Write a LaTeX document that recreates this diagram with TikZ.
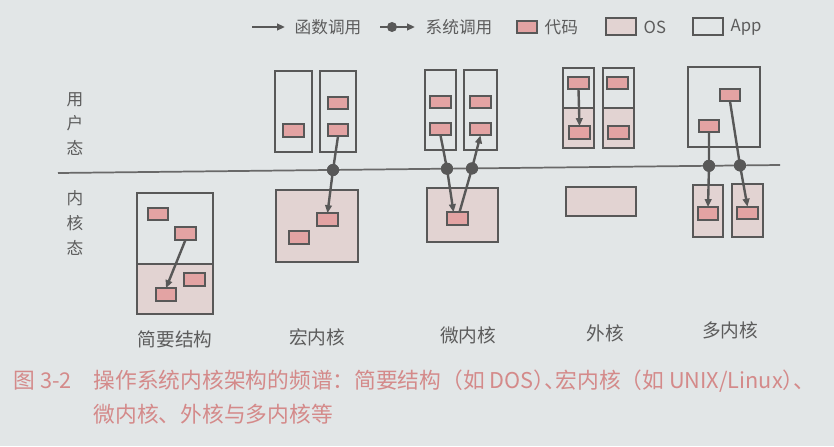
\documentclass[tikz,border=0pt]{standalone}
\usepackage{fontspec}
\setmainfont{Noto Sans CJK SC}
\usetikzlibrary{fit,arrows.meta}
\definecolor{bgc}{HTML}{E2E6E7}
\definecolor{strk}{HTML}{585858}
\definecolor{codef}{HTML}{E3A3A3}
\definecolor{osf}{HTML}{E2D3D2}
\definecolor{txt}{HTML}{5C5C5C}
\definecolor{capc}{HTML}{D48A8A}
\tikzset{
  box/.style={draw=strk, line width=2.1pt, inner sep=0pt, outer sep=0pt},
  appbox/.style={box},
  osbox/.style={box, fill=osf},
  code/.style={draw=strk, fill=codef, line width=1.3pt, minimum width=15.5pt, minimum height=9.5pt, inner sep=0pt, outer sep=0pt},
  conn/.style={draw=strk, line width=1.8pt, -{Triangle[length=6pt,width=5pt]}},
  calldot/.style={circle, fill=strk, minimum size=9pt, inner sep=0pt},
  lbl/.style={text=txt, font=\fontsize{14pt}{16pt}\selectfont},
  lgd/.style={text=txt, font=\fontsize{12.5pt}{14pt}\selectfont, anchor=west},
  captext/.style={text=capc, font=\fontsize{16.3pt}{18pt}\selectfont, anchor=west},
}
\newcommand{\rpardun}{\makebox[0.5em][l]{）}\makebox[0.5em][l]{、}}
\begin{document}
\begin{tikzpicture}[x=0.75pt, y=-0.75pt]
\fill[bgc] (0,0) rectangle (834,446);
\useasboundingbox (0,0) rectangle (834,446);

% legend
\coordinate (lgA1) at (252,27);
\coordinate (lgA2) at (285,27);
\draw[conn] (lgA1) -- (lgA2);
\node[lgd] (lgT1) at (290,27) {函数调用};
\coordinate (lgB1) at (380,27);
\coordinate (lgB2) at (415,27);
\draw[conn] (lgB1) -- (lgB2);
\node[calldot, minimum size=7.5pt] (lgBd) at (392,27) {};
\node[lgd] (lgT2) at (421,27) {系统调用};
\node[code] (lgC) at (527,27) {};
\node[lgd] (lgT3) at (540,27) {代码};
\node[osbox, fit={(606,18) (636,35)}] (lgO) {};
\node[lgd] (lgT4) at (639,27) {OS};
\node[appbox, fit={(693,18) (723,35)}] (lgP) {};
\node[lgd] (lgT5) at (726,27) {App};

% mode labels
\node[lbl, align=center, font=\fontsize{12.5pt}{18.5pt}\selectfont] (usr) at (75,124) {用\\户\\态};
\node[lbl, align=center, font=\fontsize{12.5pt}{18.5pt}\selectfont] (krn) at (75,223) {内\\核\\态};

% divider line
\coordinate (lineL) at (58,173);
\coordinate (lineR) at (780,165);
\draw[strk!90, line width=1.3pt] (lineL) -- (lineR);

% ---- simple structure
\node[appbox, fit={(137,193) (213,264)}] (sU) {};
\node[osbox, fit={(137,264) (213,314)}] (sL) {};
\node[code] (s1) at (158,214) {};
\node[code] (s2) at (185.5,233.5) {};
\node[code] (s3) at (194.5,279.5) {};
\node[code] (s4) at (166,294.5) {};
\draw[conn] (s2.south) -- (s4.north);
\node[lbl] (sT) at (175,339) {简要结构};

% ---- macro kernel
\node[appbox, fit={(275,71) (312,152)}] (mA1) {};
\node[appbox, fit={(320,71) (356,152)}] (mA2) {};
\node[osbox, fit={(276,190) (358,262)}] (mK) {};
\node[code] (m1) at (293.5,130.5) {};
\node[code] (m2) at (338,103) {};
\node[code] (m3) at (338,130) {};
\node[code] (mk1) at (327.5,219.5) {};
\node[code] (mk2) at (299,237.5) {};
\node[calldot] (mD) at (333,170) {};
\draw[conn] (m3.south) -- (mD.center) -- (mk1.north);
\node[calldot] at (mD) {};
\node[lbl] (mT) at (317,337) {宏内核};

% ---- micro kernel
\node[appbox, fit={(425,70) (456,150)}] (uA1) {};
\node[appbox, fit={(464,70) (497,150)}] (uA2) {};
\node[osbox, fit={(427,188) (498,242)}] (uK) {};
\node[code] (u1) at (440.5,102) {};
\node[code] (u2) at (440.5,129) {};
\node[code] (u3) at (480.5,102) {};
\node[code] (u4) at (480.5,129) {};
\node[code] (uk) at (457.5,218.5) {};
\node[calldot] (uD1) at (447,168.7) {};
\node[calldot] (uD2) at (472,168.4) {};
\draw[conn] (u2.south) -- (uD1.center) -- ([xshift=-3pt]uk.north);
\draw[conn] ([xshift=1.5pt]uk.north) -- (uD2.center) -- (u4.south);
\node[calldot] at (uD1) {};
\node[calldot] at (uD2) {};
\node[lbl] (uT) at (468,335) {微内核};

% ---- exokernel
\node[appbox, fit={(563,68) (594,108)}] (eA1) {};
\node[osbox, fit={(563,108) (594,148)}] (eL1) {};
\node[appbox, fit={(603,68) (634,108)}] (eA2) {};
\node[osbox, fit={(603,108) (634,148)}] (eL2) {};
\node[osbox, fit={(566,187) (636,216)}] (eK) {};
\node[code] (e1) at (578.5,83) {};
\node[code] (e2) at (617.5,83) {};
\node[code] (e3) at (579.5,132.5) {};
\node[code] (e4) at (618.5,132.5) {};
\draw[conn] (e1.south) -- (e3.north);
\node[lbl] (eT) at (605,333) {外核};

% ---- multikernel
\node[appbox, fit={(688,67) (760,147)}] (tA) {};
\node[osbox, fit={(693,185) (723,237)}] (tK1) {};
\node[osbox, fit={(732,184) (763,237)}] (tK2) {};
\node[code] (t1) at (730,95) {};
\node[code] (t2) at (709,126) {};
\node[code] (tk1) at (708,213.5) {};
\node[code] (tk2) at (747.5,213) {};
\node[calldot] (tD1) at (709,165.8) {};
\node[calldot] (tD2) at (740,165.4) {};
\draw[conn] (t2.south) -- (tD1.center) -- (tk1.north);
\draw[conn] (t1.south) -- (tD2.center) -- (tk2.north);
\node[calldot] at (tD1) {};
\node[calldot] at (tD2) {};
\node[lbl] (tT) at (730,330) {多内核};

% caption
\node[captext] (capN) at (9,381) {图 3-2};
\node[captext] (cap1) at (89,381) {操作系统内核架构的频谱：简要结构（如 DOS\rpardun 宏内核（如 UNIX/Linux\rpardun};
\node[captext] (cap2) at (89,414) {微内核、外核与多内核等};
\end{tikzpicture}
\end{document}
